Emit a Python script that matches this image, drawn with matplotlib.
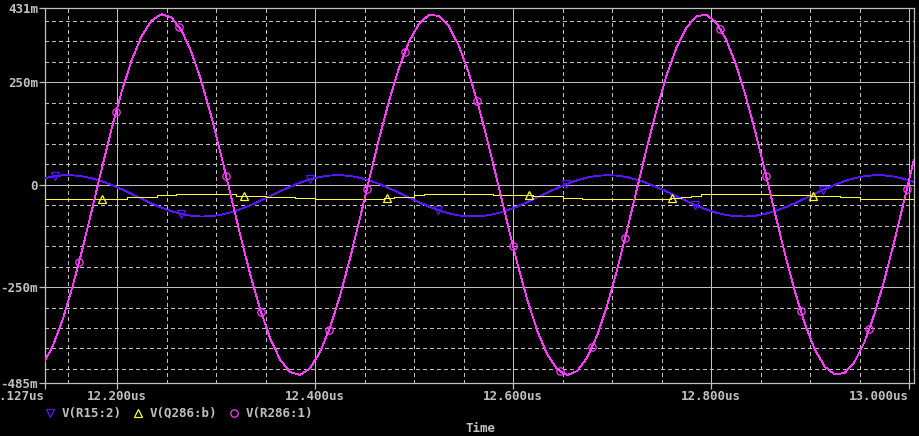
import numpy as np
import matplotlib
matplotlib.use("Agg")
import matplotlib.pyplot as plt
from matplotlib.lines import Line2D

# traces in mV, sampled every 10 ns starting at 12.125us
v_r15 = [14.5, 19.8, 22.6, 22.7, 20.2, 15.2, 7.9, -1.3, -11.8, -23.2,
         -34.8, -46.0, -56.3, -65.0, -71.7, -76.1, -78.0, -77.1, -73.7, -67.7,
         -59.7, -50.0, -39.1, -27.6, -16.0, -5.1, 4.7, 12.7, 18.6, 22.1,
         23.0, 21.2, 16.8, 10.1, 1.4, -8.9, -20.1, -31.7, -43.1, -53.6,
         -62.8, -70.1, -75.2, -77.7, -77.6, -74.8, -69.6, -62.1, -52.8, -42.1,
         -30.7, -19.1, -8.0, 2.1, 10.7, 17.2, 21.4, 23.0, 21.9, 18.2,
         12.1, 3.9, -6.0, -17.0, -28.5, -40.0, -50.9, -60.5, -68.3, -74.0,
         -77.3, -77.9, -75.9, -71.3, -64.3, -55.5, -45.2, -33.9, -22.3, -10.9,
         -0.5, 8.5, 15.7, 20.5, 22.8, 22.5, 19.5, 14.0, 6.3]

v_q286 = [-34, -34, -34, -34, -34, -34, -34, -34, -34, -31.5,
          -30, -30, -26, -26, -22, -22, -22, -24, -24, -24,
          -27.5, -27.5, -27.5, -30, -30, -30, -32.5, -32.5, -34, -34,
          -34, -34, -34, -34, -34, -32.5, -30, -30, -26, -24,
          -24, -22, -22, -22, -24, -24, -26, -26, -26, -26,
          -28, -28, -28, -32, -32, -34, -34, -34, -34, -34,
          -34, -34, -34, -34, -32.5, -31, -27, -24, -22, -22,
          -22, -24, -24, -24, -26, -26, -26, -26, -28, -28,
          -28, -31, -31, -34, -34, -34, -34, -34, -34]

v_r286 = [-439.5, -394.8, -330.5, -250.0, -157.7, -58.3, 42.9, 140.5, 229.4, 304.9,
          363.0, 400.6, 415.7, 407.6, 376.7, 324.5, 253.9, 168.6, 73.1, -27.6,
          -128.1, -223.1, -307.7, -377.2, -428.2, -457.8, -464.5, -447.9, -409.0, -349.8,
          -273.4, -183.8, -85.8, 15.4, 114.5, 206.3, 285.9, 349.1, 392.5, 413.9,
          412.1, 387.3, 340.7, 274.8, 193.1, 99.9, 0.1, -101.0, -198.0, -285.9,
          -359.9, -416.3, -451.9, -465.0, -454.7, -421.7, -367.8, -295.7, -209.3, -113.1,
          -12.2, 88.0, 182.3, 265.7, 333.7, 382.7, 410.3, 414.9, 396.3, 355.4,
          294.5, 216.7, 126.2, 27.7, -73.6, -172.3, -263.1, -341.4, -402.9, -444.4,
          -463.7, -459.8, -432.9, -384.4, -316.9, -234.0, -140.0, -39.9, 61.0]

time_us = np.round(12.125 + 0.010 * np.arange(len(v_r286)), 3)

# where the symbol markers sit on each trace (us)
mark_r15 = [12.1374, 12.2646, 12.3949, 12.5242, 12.6535, 12.7838, 12.9131]
mark_q286 = [12.1848, 12.3283, 12.4727, 12.6162, 12.7606, 12.9030]
mark_r286 = [12.1616, 12.1990, 12.2626, 12.3101, 12.3455, 12.4141, 12.4525,
             12.4909, 12.5636, 12.6000, 12.6475, 12.6798, 12.7131, 12.8091,
             12.8556, 12.8909, 12.9596, 12.9980]

names = ["V(R15:2)", "V(Q286:b)", "V(R286:1)"]
y_ticks = [431, 250, 0, -250, -485]
y_labels = ["431m", "250m", "0", "-250m", "-485m"]
x_ticks = [12.12727, 12.2, 12.4, 12.6, 12.8, 13.0]
x_labels = ["12.127us", "12.200us", "12.400us", "12.600us", "12.800us", "13.000us"]

grey = "#c0c0c0"
blue = "#5a14ff"
yellow = "#ffff33"
magenta = "#ff3cff"
fsize = 9.0
font = dict(family="DejaVu Sans Mono", weight="bold", size=fsize, color=grey)

fig = plt.figure(figsize=(9.2, 4.36), dpi=100, facecolor="black")
ax = fig.add_axes([45 / 920, 1 - 383.3 / 436, 869 / 920, 375.3 / 436], facecolor="black")
ax.set_xlim(12.12727, 13.00505)
ax.set_ylim(-485, 431)

# grid: solid majors, dashed minors every 50ns / 50mV
for v in [250, 0, -250]:
    ax.axhline(v, color=grey, lw=0.72, zorder=1, antialiased=False)
for v in [12.2, 12.4, 12.6, 12.8, 13.0]:
    ax.axvline(v, color=grey, lw=0.72, zorder=1, antialiased=False)
for v in np.arange(-450, 431, 50):
    if v % 250 != 0:
        ax.axhline(v, color=grey, lw=0.72, ls=(0, (4, 3)), zorder=1, antialiased=False)
for v in np.arange(12.15, 13.0, 0.05):
    if round(v * 1000) % 200 != 0:
        ax.axvline(v, color=grey, lw=0.72, ls=(0, (4, 3)), zorder=1, antialiased=False)

series = [(v_r15, mark_r15, blue, "v", "default"),
          (v_q286, mark_q286, yellow, "^", "steps-mid"),
          (v_r286, mark_r286, magenta, "o", "default")]
for vals, marks, col, mk, ds in series:
    ax.plot(time_us, vals, color=col, lw=0.6, drawstyle=ds, zorder=3, antialiased=False)
    ax.plot(marks, np.interp(marks, time_us, vals), ls="none", marker=mk, ms=5.3,
            mfc="none", mec=col, mew=0.9, zorder=4)

for s in ax.spines.values():
    s.set_color(grey)
    s.set_linewidth(0.9)

ax.set_yticks(y_ticks)
ax.set_yticklabels(y_labels)
ax.set_xticks(x_ticks)
ax.set_xticklabels(x_labels)
ax.tick_params(axis="both", colors=grey, length=4.0, width=0.9, pad=1.0)
for lab in ax.get_xticklabels() + ax.get_yticklabels():
    lab.set_fontfamily("DejaVu Sans Mono")
    lab.set_fontweight("bold")
    lab.set_fontsize(fsize)
    lab.set_color(grey)
xl = ax.get_xticklabels()
xl[0].set_horizontalalignment("right")
xl[-1].set_horizontalalignment("right")

# legend row under the axis
leg_y = 1 - 413 / 436
for name, col, mk, mx, tx in [(names[0], blue, "v", 50, 62),
                               (names[1], yellow, "^", 138, 150),
                               (names[2], magenta, "o", 234, 246)]:
    fig.add_artist(Line2D([mx / 920], [leg_y], transform=fig.transFigure, ls="none",
                          marker=mk, ms=5.3, mfc="none", mec=col, mew=0.9))
    fig.text(tx / 920, leg_y, name, va="center", ha="left", **font)

fig.text(481 / 920, 1 - 428 / 436, "Time", ha="center", va="center", **font)

fig.savefig("out.png", dpi=100, facecolor="black")
